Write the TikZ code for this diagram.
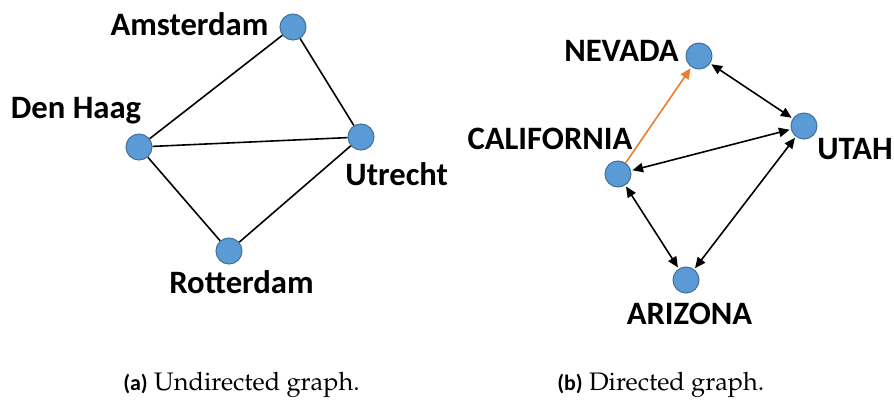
\documentclass[tikz,border=0pt]{standalone}
\usepackage[T1,TU]{fontenc}
\usepackage{fontspec}
\newfontfamily\labfont{Carlito}
\usetikzlibrary{arrows.meta}
\definecolor{nodefill}{HTML}{5B9BD5}
\definecolor{nodeline}{HTML}{41719C}
\definecolor{orangeedge}{HTML}{ED7D31}
\newcommand{\capfont}{\fontencoding{T1}\fontfamily{ppl}\selectfont}
\newcommand{\caplabfont}{\labfont\bfseries\fontsize{16.5}{20}\selectfont}
\tikzset{
  vertex/.style={circle,fill=nodefill,draw=nodeline,line width=0.8pt,minimum size=19.5pt,inner sep=0pt},
  lab/.style={anchor=base,inner sep=0pt,font=\labfont\bfseries\fontsize{24.5}{29}\selectfont},
  edge/.style={line width=1.2pt,black},
  biarrow/.style={line width=1.2pt,black,{Triangle[length=8pt,width=7pt]}-{Triangle[length=8pt,width=7pt]},shorten <=1pt,shorten >=1pt},
  orarrow/.style={line width=1.2pt,orangeedge,-{Triangle[length=8pt,width=7pt]},shorten >=1pt},
  captext/.style={anchor=base west,inner sep=0pt,font=\capfont\fontsize{19}{23}\selectfont}
}
\begin{document}
\begin{tikzpicture}[x=0.75pt,y=-0.75pt]
\useasboundingbox (0,0) rectangle (894,405);
% left graph
\node[vertex] (ams) at (293,27) {};
\node[vertex] (dh) at (139,147) {};
\node[vertex] (utr) at (361,137) {};
\node[vertex] (rot) at (229,251) {};
\node[lab] (lams) at (189.5,35) {Amsterdam};
\node[lab] (ldh) at (76,118) {Den Haag};
\node[lab] (lutr) at (396.7,185) {Utrecht};
\node[lab] (lrot) at (241.5,293) {Rotterdam};
\draw[edge] (dh) -- (ams);
\draw[edge] (ams) -- (utr);
\draw[edge] (dh) -- (utr);
\draw[edge] (dh) -- (rot);
\draw[edge] (rot) -- (utr);
% right graph
\node[vertex] (nev) at (699,56) {};
\node[vertex] (uta) at (804,126) {};
\node[vertex] (cal) at (618,174) {};
\node[vertex] (ari) at (686,280) {};
\node[lab] (lnev) at (621.5,61) {NEVADA};
\node[lab] (lcal) at (550,149) {CALIFORNIA};
\node[lab] (luta) at (855,159) {UTAH};
\node[lab] (lari) at (689.5,324) {ARIZONA};
\draw[orarrow] (cal) -- (nev);
\draw[biarrow] (nev) -- (uta);
\draw[biarrow] (cal) -- (uta);
\draw[biarrow] (cal) -- (ari);
\draw[biarrow] (uta) -- (ari);
% captions
\node[captext] (capa) at (123,390) {{\caplabfont (a)} Undirected graph.};
\node[captext] (capb) at (557,390) {{\caplabfont (b)} Directed graph.};
\end{tikzpicture}
\end{document}
